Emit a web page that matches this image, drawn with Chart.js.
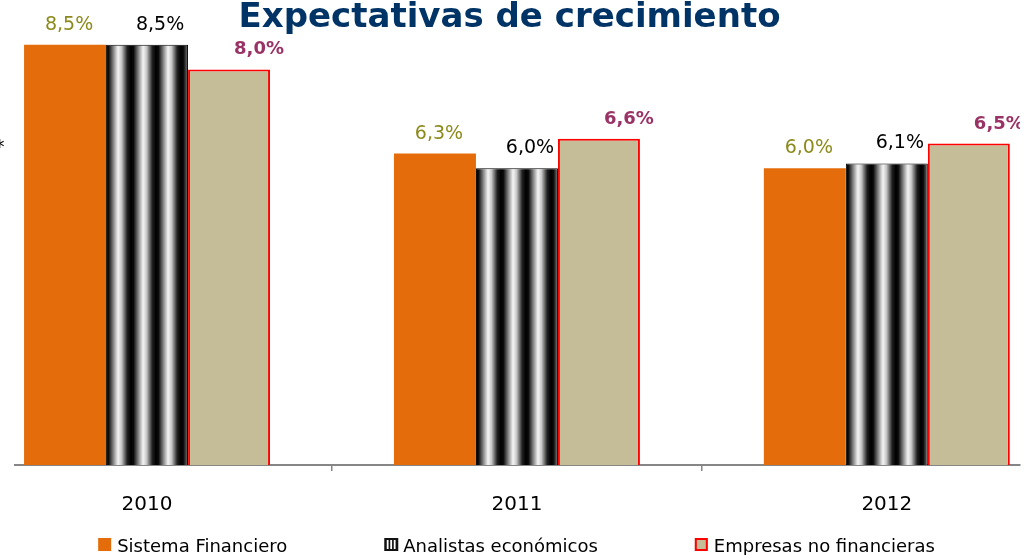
<!DOCTYPE html>
<html>
<head>
<meta charset="utf-8">
<script src="https://cdn.jsdelivr.net/npm/chart.js@4.4.1/dist/chart.umd.min.js"></script>
<style>
  html, body { margin: 0; padding: 0; background: #ffffff; overflow: hidden; }
  #wrap { position: relative; width: 1033px; height: 555px; }
</style>
</head>
<body>
<div id="wrap"><canvas id="c" width="1033" height="555"></canvas></div>
<script>
// ---- data ----
const years = ['2010', '2011', '2012'];
const sistemaFinanciero = [8.5, 6.3, 6.0];
const analistasEconomicos = [8.5, 6.0, 6.1];
const empresasNoFinancieras = [8.0, 6.6, 6.5];
const seriesNames = ['Sistema Financiero', 'Analistas económicos', 'Empresas no financieras'];
const titleText = 'Expectativas de crecimiento';

// ---- styles ----
const FONT = '"DejaVu Sans", sans-serif';
const CAT_PCT = 0.665;
const ORANGE = '#E46C0A';
const TAN = '#C4BD97';
const RED = '#FF0000';

function makeStripeCanvas(period) {
  const c = document.createElement('canvas');
  c.width = period; c.height = 4;
  const g = c.getContext('2d');
  const grad = g.createLinearGradient(0, 0, period, 0);
  grad.addColorStop(0.00, '#000000');
  grad.addColorStop(0.10, '#0c0c0c');
  grad.addColorStop(0.30, '#8a8a8a');
  grad.addColorStop(0.48, '#f6f6f6');
  grad.addColorStop(0.62, '#c8c8c8');
  grad.addColorStop(0.85, '#202020');
  grad.addColorStop(1.00, '#000000');
  g.fillStyle = grad;
  g.fillRect(0, 0, period, 4);
  return c;
}
const stripeCanvas = makeStripeCanvas(25);

function stripeFill(ctx) {
  const chart = ctx.chart;
  const xs = chart.scales && chart.scales.x;
  if (!xs || ctx.dataIndex === undefined) return '#000000';
  const unit = xs.getPixelForValue(1) - xs.getPixelForValue(0);
  const w = unit * CAT_PCT / 3;
  const left = xs.getPixelForValue(ctx.dataIndex) - w / 2;
  const p = chart.ctx.createPattern(stripeCanvas, 'repeat');
  if (p.setTransform) p.setTransform(new DOMMatrix().translate(left, 0));
  return p;
}

const labelStyles = [
  { color: '#8C8A1C', font: '19px ' + FONT, dx: 4 },
  { color: '#000000', font: '19px ' + FONT, dx: 13 },
  { color: '#993366', font: 'bold 18px ' + FONT, dx: 30 }
];

const toPts = (arr) => arr.map((v, i) => ({ x: i, y: v }));

const decoPlugin = {
  id: 'deco',
  afterDatasetsDraw(chart) {
    const ctx = chart.ctx;
    ctx.save();
    ctx.beginPath();
    ctx.rect(0, 0, chart.chartArea.right, chart.height);
    ctx.clip();
    ctx.textAlign = 'center';
    ctx.textBaseline = 'alphabetic';
    chart.data.datasets.forEach((ds, di) => {
      const meta = chart.getDatasetMeta(di);
      const st = labelStyles[di];
      ctx.font = st.font;
      ctx.fillStyle = st.color;
      meta.data.forEach((el, i) => {
        const v = ds.data[i].y;
        const txt = v.toFixed(1).replace('.', ',') + '%';
        ctx.fillText(txt, el.x + st.dx, el.y - 15);
      });
    });
    ctx.restore();
  },
  afterDraw(chart) {
    const ctx = chart.ctx;
    ctx.save();
    // title
    ctx.font = 'bold 34px ' + FONT;
    ctx.fillStyle = '#003366';
    ctx.textAlign = 'center';
    ctx.textBaseline = 'alphabetic';
    ctx.fillText(titleText, 509.5, 27);
    // cut-off asterisk at the left edge
    ctx.font = '19px ' + FONT;
    ctx.fillStyle = '#000000';
    ctx.textAlign = 'right';
    ctx.fillText('*', 4.5, 153);
    // legend
    ctx.font = '18px ' + FONT;
    ctx.textAlign = 'left';
    const box = 13, gapBT = 6, gapItems = 97;
    const widths = seriesNames.map(n => ctx.measureText(n).width);
    const itemW = widths.map(w => box + gapBT + w);
    const total = itemW.reduce((a, b) => a + b, 0) + gapItems * (itemW.length - 1);
    let x = chart.width / 2 - total / 2;
    const by = 538;
    seriesNames.forEach((name, i) => {
      if (i === 0) {
        ctx.fillStyle = ORANGE;
        ctx.fillRect(x, by, box, box);
      } else if (i === 1) {
        ctx.fillStyle = '#111111';
        ctx.fillRect(x, by, box + 1, box);
        ctx.fillStyle = '#ffffff';
        [2.5, 6, 9.5].forEach(o => ctx.fillRect(x + o, by + 2, 1.8, box - 4));
      } else {
        ctx.fillStyle = TAN;
        ctx.fillRect(x, by, box, box);
        ctx.strokeStyle = RED;
        ctx.lineWidth = 2;
        ctx.strokeRect(x + 1, by + 1, box - 2, box - 2);
      }
      ctx.fillStyle = '#000000';
      ctx.fillText(name, x + box + gapBT, 551.5);
      x += itemW[i] + gapItems;
    });
    ctx.restore();
  }
};

Chart.defaults.font.family = FONT;

new Chart(document.getElementById('c'), {
  type: 'bar',
  data: {
    datasets: [
      {
        label: seriesNames[0],
        data: toPts(sistemaFinanciero),
        backgroundColor: ORANGE,
        borderWidth: 0
      },
      {
        label: seriesNames[1],
        data: toPts(analistasEconomicos),
        backgroundColor: stripeFill,
        borderColor: '#000000',
        borderWidth: 1
      },
      {
        label: seriesNames[2],
        data: toPts(empresasNoFinancieras),
        backgroundColor: TAN,
        borderColor: RED,
        borderWidth: 2
      }
    ]
  },
  options: {
    responsive: false,
    animation: false,
    events: [],
    categoryPercentage: CAT_PCT,
    barPercentage: 1,
    layout: { padding: { top: 20, left: 15, right: 13, bottom: 16 } },
    plugins: {
      legend: { display: false },
      title: { display: false },
      tooltip: { enabled: false }
    },
    scales: {
      x: {
        type: 'linear',
        offset: false,
        min: -0.357,
        max: 2.36,
        afterBuildTicks: (s) => { s.ticks = years.map((_, i) => ({ value: i })); },
        ticks: {
          callback: (v) => years[v] !== undefined ? years[v] : '',
          font: { family: FONT, size: 20 },
          color: '#000000',
          padding: 22,
          autoSkip: false,
          maxRotation: 0
        },
        grid: {
          offset: true,
          drawOnChartArea: false,
          drawTicks: true,
          tickLength: 6,
          color: '#868686',
          lineWidth: 1.5
        },
        border: { display: true, color: '#868686', width: 2 }
      },
      y: {
        display: false,
        min: 0,
        max: 9
      }
    }
  },
  plugins: [decoPlugin]
});
</script>
</body>
</html>
